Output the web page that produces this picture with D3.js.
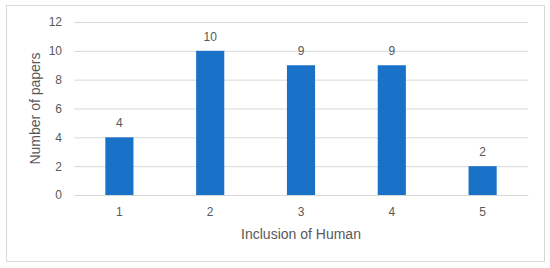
<!DOCTYPE html>
<html><head><meta charset="utf-8">
<script src="https://cdn.jsdelivr.net/npm/d3@7"></script>
<style>body{margin:0;background:#fff}svg{display:block}text{font-family:"Liberation Sans",Arial,sans-serif;fill:#595959}</style>
</head><body>
<svg id="c" width="550" height="268"></svg>
<script>
const categories = ["1","2","3","4","5"];
const values = [4,10,9,9,2];
const yTicks = [0,2,4,6,8,10,12];
const xTitle = "Inclusion of Human";
const yTitle = "Number of papers";

const svg = d3.select("#c");
svg.append("rect").attr("x",6.5).attr("y",5.5).attr("width",538).attr("height",256)
  .attr("fill","#fff").attr("stroke","#d9d9d9");
const m = {l:74, r:528, t:22, b:195};
const x = d3.scaleBand().domain(categories).range([m.l,m.r]).paddingInner(0.69).paddingOuter(0.345);
const y = d3.scaleLinear().domain([0,12]).range([m.b,m.t]);

const yAx = svg.append("g").attr("transform",`translate(${m.l},0)`)
  .call(d3.axisLeft(y).tickValues(yTicks).tickSize(-(m.r-m.l)).tickPadding(12));
yAx.select(".domain").remove();
yAx.selectAll("line").attr("stroke","#d9d9d9");
yAx.selectAll("text").attr("font-size",12).style("fill","#595959").attr("font-family","Liberation Sans, Arial, sans-serif");

const xAx = svg.append("g").attr("transform",`translate(0,${m.b})`)
  .call(d3.axisBottom(x).tickSize(0).tickPadding(12));
xAx.select(".domain").attr("stroke","#d9d9d9");
xAx.selectAll("text").attr("font-size",12).style("fill","#595959").attr("font-family","Liberation Sans, Arial, sans-serif");

svg.append("g").selectAll("rect").data(values).join("rect")
  .attr("x",(d,i)=>x(categories[i])).attr("width",x.bandwidth())
  .attr("y",d=>y(d)).attr("height",d=>y(0)-y(d)).attr("fill","#1a71c8");

svg.append("g").selectAll("text").data(values).join("text")
  .attr("x",(d,i)=>x(categories[i])+x.bandwidth()/2).attr("y",d=>y(d)-10)
  .attr("text-anchor","middle").attr("font-size",12).text(d=>d);

svg.append("text").attr("x",(m.l+m.r)/2).attr("y",239).attr("text-anchor","middle")
  .attr("font-size",14).text(xTitle);
svg.append("text").attr("transform",`translate(40,${(m.t+m.b)/2}) rotate(-90)`)
  .attr("text-anchor","middle").attr("font-size",14).text(yTitle);
</script>
</body></html>
